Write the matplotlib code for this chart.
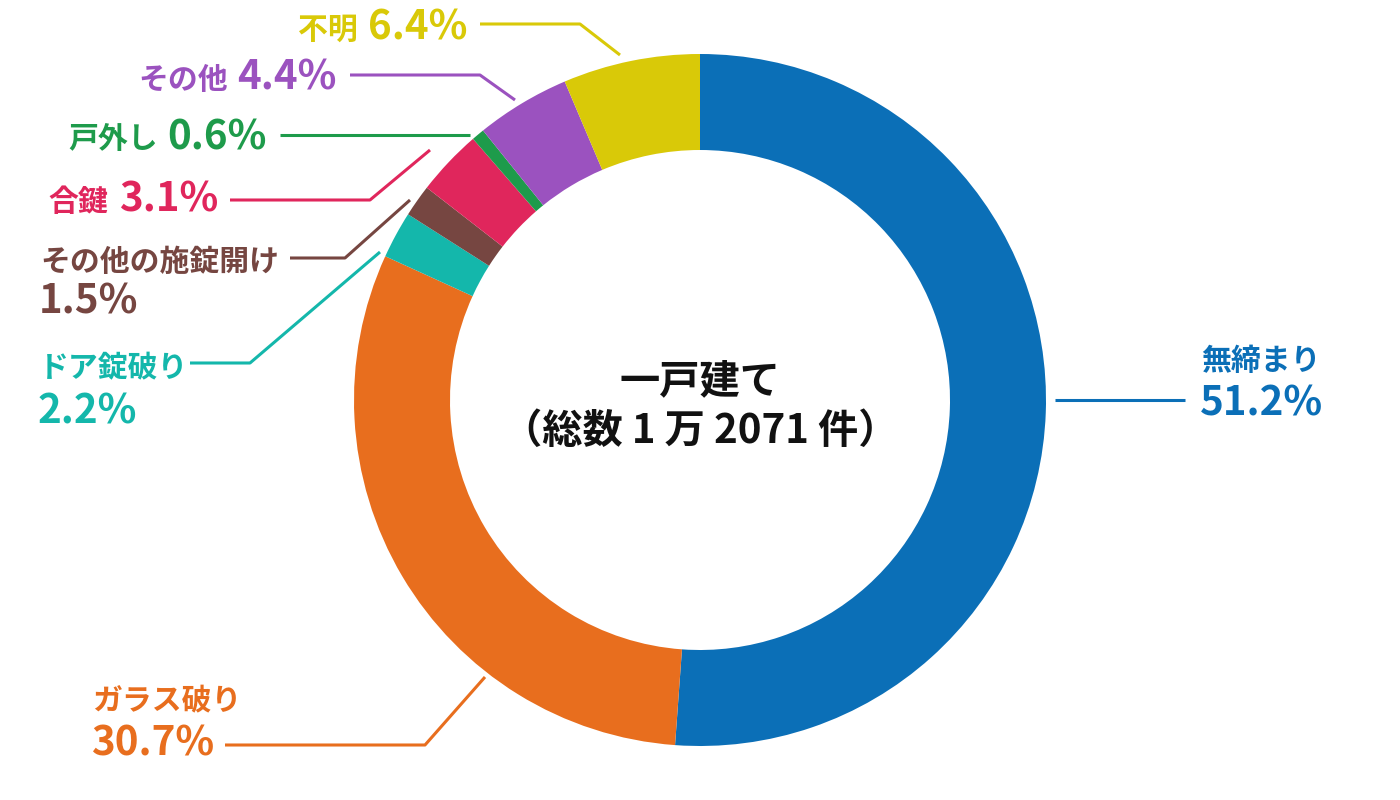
import matplotlib.pyplot as plt

plt.rcParams['font.family'] = ['Noto Sans CJK JP', 'DejaVu Sans']

# data, clockwise from 12 o'clock
labels = ['無締まり', 'ガラス破り', 'ドア錠破り', 'その他の施錠開け', '合鍵', '戸外し', 'その他', '不明']
shares = [51.2, 30.7, 2.2, 1.5, 3.1, 0.6, 4.4, 6.4]
colors = ['#0b6fb7', '#e86e1e', '#14b7ab', '#764641', '#e0265c', '#1e9b4b', '#9b52bf', '#d9c908']
center_title = '一戸建て'
center_sub = '（総数 1 万 2071 件）'

W, H = 1400, 800


def P(x, y):
    # pixel coords (origin top-left) -> data coords
    return x, H - y


fig = plt.figure(figsize=(14, 8), dpi=100)
ax = fig.add_axes([0, 0, 1, 1])
ax.set_xlim(0, W)
ax.set_ylim(0, H)
ax.set_aspect('equal')
ax.axis('off')

ax.pie(shares, colors=colors, center=P(700, 400), radius=346, startangle=90,
       counterclock=False, wedgeprops=dict(width=96, edgecolor='none'))
ax.set_xlim(0, W)
ax.set_ylim(0, H)

ax.text(*P(700, 393), center_title, ha='center', va='baseline', fontsize=29, fontweight='bold', color='#111111')
ax.text(*P(700, 443), center_sub, ha='center', va='baseline', fontsize=29, fontweight='bold', color='#111111')

# leader lines (pixel positions)
leaders = [
    [(1055, 400), (1185, 400)],
    [(485, 677), (425, 745), (225, 745)],
    [(380, 252), (250, 363), (190, 363)],
    [(410, 200), (345, 258), (290, 258)],
    [(430, 150), (370, 200), (230, 200)],
    [(470, 135), (280, 135)],
    [(515, 100), (480, 75), (350, 75)],
    [(620, 55), (580, 24), (480, 24)],
]
for pts, c in zip(leaders, colors):
    xs = [p[0] for p in pts]
    ys = [H - p[1] for p in pts]
    ax.plot(xs, ys, color=c, lw=2.2, solid_capstyle='butt')

LS = 21.5  # label size
PS = 29    # percent size

# two-line labels: (index, x_left, label baseline, pct baseline)
two_line = [(0, 1201, 370, 415), (1, 92, 710, 755), (2, 39, 377, 423), (3, 40, 271, 313)]
for i, x, yl, yp in two_line:
    ax.text(*P(x, yl), labels[i], ha='left', va='baseline', fontsize=LS, fontweight='bold', color=colors[i])
    ax.text(*P(x - 1, yp), f'{shares[i]}%', ha='left', va='baseline', fontsize=PS, fontweight='bold', color=colors[i])

# one-line labels: (index, label right edge, pct right edge, baseline)
one_line = [(4, 108, 218, 212), (5, 158, 267, 149), (6, 228, 336, 90), (7, 358, 467, 40)]
for i, xl, xp, yb in one_line:
    ax.text(*P(xl, yb - 1), labels[i], ha='right', va='baseline', fontsize=LS, fontweight='bold', color=colors[i])
    ax.text(*P(xp, yb), f'{shares[i]}%', ha='right', va='baseline', fontsize=PS, fontweight='bold', color=colors[i])

fig.savefig('out.png', dpi=100, facecolor='white')
